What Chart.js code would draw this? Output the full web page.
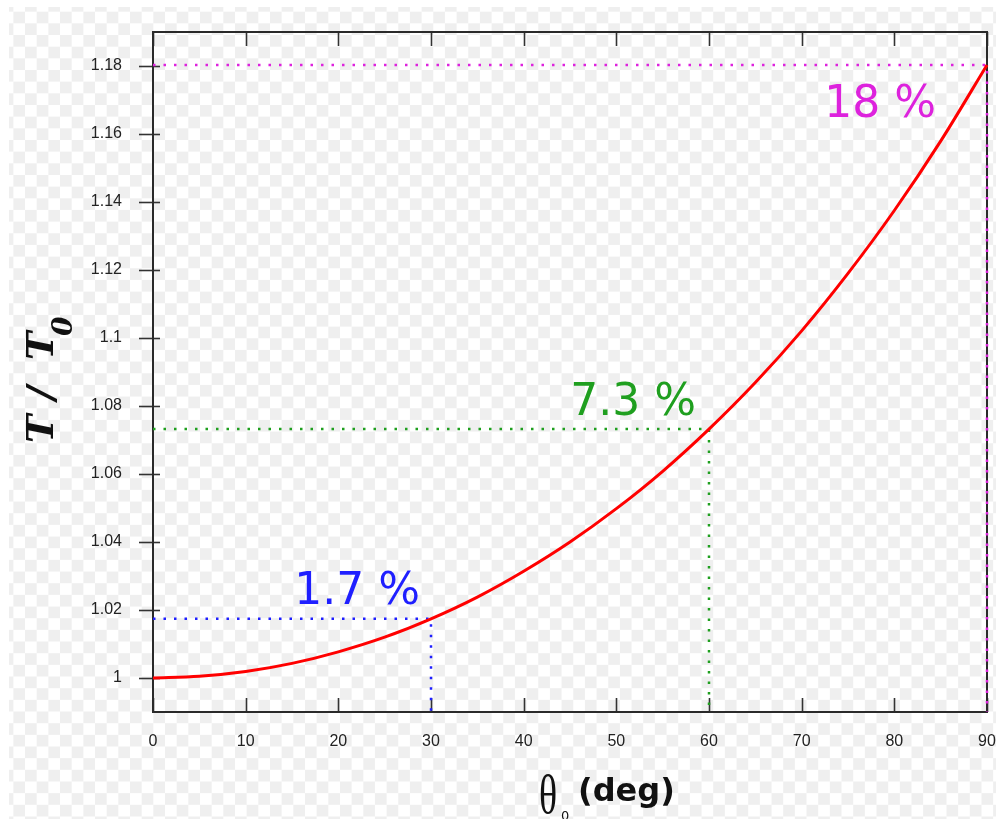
<!DOCTYPE html>
<html>
<head>
<meta charset="utf-8">
<script src="https://cdn.jsdelivr.net/npm/chart.js@4/dist/chart.umd.min.js"></script>
<style>
  html, body { margin: 0; padding: 0; background: #fff; }
  #wrap { position: relative; width: 996px; height: 819px; overflow: hidden; background: #fff; }
  #checker {
    position: absolute; left: 9px; top: 7px; width: 987px; height: 812px;
    background-color: #fff;
    background-image: conic-gradient(transparent 25%, #efefef 0 50%, transparent 0 75%, #efefef 0);
    background-size: 23.333px 23.333px;
    background-position: -7.3px -7px;
  }
  #c { position: absolute; left: 0; top: 0; }
</style>
</head>
<body>
<div id="wrap">
  <div id="checker"></div>
  <canvas id="c" width="996" height="819"></canvas>
</div>
<script>
// ---- data ----
const thetaDeg = [0, 5, 10, 15, 20, 25, 30, 35, 40, 45, 50, 55, 60, 65, 70, 75, 80, 85, 90];
const periodRatio = [1.0000, 1.0005, 1.0019, 1.0043, 1.0077, 1.0120, 1.0174, 1.0238, 1.0314, 1.0400,
                     1.0498, 1.0608, 1.0732, 1.0869, 1.1021, 1.1190, 1.1375, 1.1579, 1.1803];
const markerAngles = [30, 60, 90];
const markerRatios = [1.0174, 1.0732, 1.1803];
const markerLabels = ['1.7 %', '7.3 %', '18 %'];
const markerColors = ['#1f1fff', '#1f9f1f', '#dd22dd'];
const xTicks = [0, 10, 20, 30, 40, 50, 60, 70, 80, 90];
const xTickLabels = ['0', '10', '20', '30', '40', '50', '60', '70', '80', '90'];
const yTicks = [1, 1.02, 1.04, 1.06, 1.08, 1.1, 1.12, 1.14, 1.16, 1.18];
const yTickLabels = ['1', '1.02', '1.04', '1.06', '1.08', '1.1', '1.12', '1.14', '1.16', '1.18'];
const yMin = 0.99, yMax = 1.19, xMin = 0, xMax = 90;

// ---- datasets ----
const curve = {
  label: 'T/T0',
  data: thetaDeg.map((t, i) => ({ x: t, y: periodRatio[i] })),
  borderColor: '#ff0000',
  borderWidth: 3,
  pointRadius: 0,
  cubicInterpolationMode: 'monotone',
  clip: false,
  order: 0
};
const markerSets = markerAngles.map((a, i) => ({
  label: markerLabels[i],
  data: [{ x: xMin, y: markerRatios[i] }, { x: a, y: markerRatios[i] }, { x: a, y: yMin }],
  borderColor: markerColors[i],
  borderWidth: 2.5,
  borderDash: [2.5, 8],
  pointRadius: 0,
  tension: 0,
  clip: false,
  order: 1
}));

const framePlugin = {
  id: 'frame',
  beforeDatasetsDraw(chart) {
    const ctx = chart.ctx;
    const { left, right, top, bottom } = chart.chartArea;
    const xs = chart.scales.x, ys = chart.scales.y;
    ctx.save();
    ctx.strokeStyle = '#333';
    ctx.lineWidth = 1.6;
    ys.ticks.forEach(t => {
      const py = Math.round(ys.getPixelForValue(t.value)) + 0.5;
      ctx.beginPath(); ctx.moveTo(left - 14, py); ctx.lineTo(left + 7, py); ctx.stroke();
    });
    xs.ticks.forEach(t => {
      const px = Math.round(xs.getPixelForValue(t.value)) + 0.5;
      ctx.beginPath(); ctx.moveTo(px, bottom); ctx.lineTo(px, bottom - 14); ctx.stroke();
      ctx.beginPath(); ctx.moveTo(px, top); ctx.lineTo(px, top + 14); ctx.stroke();
    });
    ctx.lineWidth = 2;
    ctx.strokeStyle = '#2a2a2a';
    ctx.strokeRect(left, top, right - left, bottom - top);
    ctx.restore();
  }
};

const labelPlugin = {
  id: 'labels',
  afterDatasetsDraw(chart) {
    const ctx = chart.ctx;
    const xs = chart.scales.x, ys = chart.scales.y;
    const offs = [[-11, -15], [-13, -14], [-51, 52]];
    ctx.save();
    ctx.font = '44px "DejaVu Sans"';
    ctx.textAlign = 'right';
    ctx.textBaseline = 'alphabetic';
    markerAngles.forEach((a, i) => {
      const px = xs.getPixelForValue(a), py = ys.getPixelForValue(markerRatios[i]);
      ctx.fillStyle = markerColors[i];
      ctx.fillText(markerLabels[i], px + offs[i][0], py + offs[i][1]);
    });
    ctx.restore();

    // axis titles
    ctx.save();
    ctx.fillStyle = '#111';
    // y title: T / T0 rotated
    ctx.translate(53, 443);
    ctx.rotate(-Math.PI / 2);
    ctx.textAlign = 'left';
    ctx.textBaseline = 'alphabetic';
    ctx.font = 'italic bold 38px "DejaVu Serif"';
    ctx.fillText('T', 0, 0);
    ctx.fillText('/', 43, 0);
    ctx.fillText('T', 83, 0);
    ctx.font = 'italic bold 28px "DejaVu Serif"';
    ctx.fillText('0', 107, 19);
    ctx.restore();

    ctx.save();
    ctx.fillStyle = '#111';
    ctx.textAlign = 'left';
    ctx.textBaseline = 'alphabetic';
    ctx.save();
    ctx.translate(539, 813);
    ctx.scale(0.7, 1);
    ctx.font = '54px "Liberation Serif"';
    ctx.fillText('\u03B8', 0, 0);
    ctx.restore();
    ctx.font = '13px "DejaVu Sans"';
    ctx.fillText('0', 561, 820);
    ctx.font = 'bold 32px "DejaVu Sans"';
    ctx.fillText('(deg)', 578, 801);
    ctx.restore();
  }
};

new Chart(document.getElementById('c'), {
  type: 'line',
  data: { datasets: [curve, ...markerSets] },
  options: {
    responsive: false,
    devicePixelRatio: 1,
    animation: false,
    events: [],
    layout: { padding: { left: 0, right: 9, top: 32, bottom: 0 } },
    plugins: { legend: { display: false }, tooltip: { enabled: false }, title: { display: false } },
    scales: {
      x: {
        type: 'linear', min: xMin, max: xMax,
        afterBuildTicks: s => { s.ticks = xTicks.map(v => ({ value: v })); },
        afterFit: s => { s.height = 107; s.paddingLeft = 0; s.paddingRight = 0; },
        grid: { display: false },
        border: { display: false },
        ticks: {
          autoSkip: false, maxRotation: 0, padding: 12,
          color: '#222',
          font: { family: '"Liberation Sans"', size: 16 },
          callback: (v, i) => xTickLabels[i]
        }
      },
      y: {
        type: 'linear', min: yMin, max: yMax,
        afterBuildTicks: s => { s.ticks = yTicks.map(v => ({ value: v })); },
        afterFit: s => { s.width = 153; s.paddingTop = 0; s.paddingBottom = 0; },
        grid: { display: false },
        border: { display: false },
        ticks: {
          autoSkip: false, padding: 23,
          color: '#222',
          font: { family: '"Liberation Sans"', size: 16 },
          callback: (v, i) => yTickLabels[i]
        }
      }
    }
  },
  plugins: [framePlugin, labelPlugin]
});
</script>
</body>
</html>
